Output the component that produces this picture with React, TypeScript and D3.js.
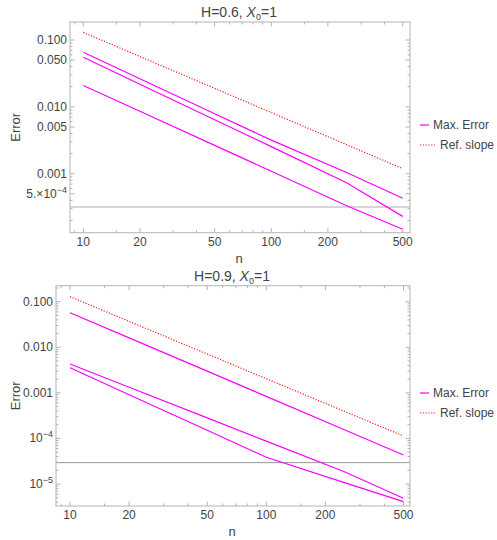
import React from "react";
import * as d3 from "d3";

// ---- data ----
const nValues = [10, 20, 50, 100, 250, 500];

// H = 0.6
const h06ErrA = [0.0655, 0.0264, 0.0079, 0.00318, 0.00105, 0.00043];
const h06ErrB = [0.0551, 0.0218, 0.00641, 0.00254, 0.00074, 0.00023];
const h06ErrC = [0.0209, 0.00859, 0.00265, 0.00109, 0.000335, 0.000148];
const h06Ref = [0.13, 0.0567, 0.0189, 0.00822, 0.00274, 0.00119];
const h06Threshold = 0.000317;

// H = 0.9
const h09ErrA = [0.0574, 0.0161, 0.00299, 0.000836, 0.000155, 0.0000434];
const h09ErrB = [0.0043, 0.00133, 0.000282, 0.0000873, 0.0000186, 0.00000486];
const h09ErrC = [0.00356, 0.00091, 0.000151, 0.0000385, 0.0000107, 0.0000041];
const h09Ref = [0.129, 0.037, 0.00711, 0.00204, 0.000393, 0.000113];
const h09Threshold = 0.0000294;

const xTickLabels = [10, 20, 50, 100, 200, 500];
const xMinorTicks = [9, 15, 30, 40, 60, 70, 80, 90, 150, 300, 400];
const h06YTicks = [0.1, 0.05, 0.01, 0.005, 0.001, 0.0005];
const h09YTicks = [0.1, 0.01, 0.001, 0.0001, 0.00001];

const FONT = "'Liberation Sans', Arial, sans-serif";
const TXT = "#444";
const FRAME = "#b4b4b4";
const MAG = "#ff00ff";
const RED = "#ff2020";

type YLabel = { v: number; base: string; exp?: string };

function yLabel06(v: number): YLabel {
  if (v === 0.0005) return { v, base: "5.×10", exp: "−4" };
  return { v, base: d3.format(".3f")(v) };
}
function yLabel09(v: number): YLabel {
  if (v < 0.001) return { v, base: "10", exp: String(Math.round(Math.log10(v))).replace("-", "−") };
  return { v, base: d3.format(".3f")(v) };
}

function Panel(props: {
  title: string;
  left: number; right: number; top: number; bottom: number;
  xDomain: [number, number]; yDomain: [number, number];
  series: number[][]; ref: number[]; threshold: number;
  yTicks: YLabel[]; thresholdColor: string; thresholdWidth: number;
  legendY: number;
}) {
  const { left, right, top, bottom } = props;
  const x = d3.scaleLog().domain(props.xDomain).range([left, right]);
  const y = d3.scaleLog().domain(props.yDomain).range([top, bottom]);
  const line = d3
    .line<number>()
    .x((_, i) => x(nValues[i]))
    .y((d) => y(d));

  // minor y ticks
  const lo = Math.floor(Math.log10(props.yDomain[1]));
  const hi = Math.ceil(Math.log10(props.yDomain[0]));
  const majorSet = props.yTicks.map((t) => t.v);
  const yMinor: number[] = [];
  for (let e = lo; e <= hi; e++) {
    for (let k = 1; k <= 9; k++) {
      const v = k * Math.pow(10, e);
      if (v < props.yDomain[1] || v > props.yDomain[0]) continue;
      if (majorSet.some((m) => Math.abs(m - v) / v < 1e-6)) continue;
      yMinor.push(v);
    }
  }
  const cx = (left + right) / 2;
  const cy = (top + bottom) / 2;
  const [t1, rest] = props.title.split("|");
  return (
    <g>
      <text x={cx - 1} y={top - 5} textAnchor="middle" fontSize={14} fill={TXT} fontFamily={FONT}>
        {t1}
        <tspan fontStyle="italic">X</tspan>
        <tspan fontSize={9} dy={3}>0</tspan>
        <tspan dy={-3}>{rest}</tspan>
      </text>
      {/* threshold */}
      <line x1={left} x2={right} y1={y(props.threshold)} y2={y(props.threshold)}
        stroke={props.thresholdColor} strokeWidth={props.thresholdWidth} />
      {/* series */}
      <path d={line(props.ref) || ""} fill="none" stroke={RED} strokeWidth={1.2} strokeDasharray="1.2,1.6" />
      {props.series.map((s, i) => (
        <path key={i} d={line(s) || ""} fill="none" stroke={MAG} strokeWidth={1.2} />
      ))}
      {/* frame */}
      <rect x={left} y={top} width={right - left} height={bottom - top} fill="none" stroke={FRAME} strokeWidth={1} />
      {/* x ticks */}
      {xTickLabels.map((v) => (
        <g key={"xm" + v}>
          <line x1={x(v)} x2={x(v)} y1={bottom} y2={bottom - 4.5} stroke={FRAME} />
          <line x1={x(v)} x2={x(v)} y1={top} y2={top + 4.5} stroke={FRAME} />
          <text x={x(v)} y={bottom + 13} textAnchor="middle" fontSize={12} fill={TXT} fontFamily={FONT}>{v}</text>
        </g>
      ))}
      {xMinorTicks.filter((v) => v >= props.xDomain[0] && v <= props.xDomain[1]).map((v) => (
        <g key={"xn" + v}>
          <line x1={x(v)} x2={x(v)} y1={bottom} y2={bottom - 2.5} stroke={FRAME} />
          <line x1={x(v)} x2={x(v)} y1={top} y2={top + 2.5} stroke={FRAME} />
        </g>
      ))}
      {/* y ticks */}
      {props.yTicks.map((t) => (
        <g key={"ym" + t.v}>
          <line x1={left} x2={left + 4.5} y1={y(t.v)} y2={y(t.v)} stroke={FRAME} />
          <line x1={right} x2={right - 4.5} y1={y(t.v)} y2={y(t.v)} stroke={FRAME} />
          <text x={left - 3} y={y(t.v) + 4} textAnchor="end" fontSize={12} fill={TXT} fontFamily={FONT}>
            {t.base}
            {t.exp ? <tspan fontSize={9} dy={-5}>{t.exp}</tspan> : null}
          </text>
        </g>
      ))}
      {yMinor.map((v) => (
        <g key={"yn" + v}>
          <line x1={left} x2={left + 2.5} y1={y(v)} y2={y(v)} stroke={FRAME} />
          <line x1={right} x2={right - 2.5} y1={y(v)} y2={y(v)} stroke={FRAME} />
        </g>
      ))}
      {/* axis labels */}
      <text x={cx - 1} y={bottom + 30} textAnchor="middle" fontSize={13} fill={TXT} fontFamily={FONT}>n</text>
      <text transform={`translate(20,${cy}) rotate(-90)`} textAnchor="middle" fontSize={13} fill={TXT} fontFamily={FONT}>Error</text>
      {/* legend */}
      <line x1={420} x2={429} y1={props.legendY} y2={props.legendY} stroke={MAG} strokeWidth={1.2} />
      <text x={433} y={props.legendY + 4} fontSize={12} fill={TXT} fontFamily={FONT}>Max. Error</text>
      <line x1={420} x2={435} y1={props.legendY + 20} y2={props.legendY + 20} stroke={RED} strokeWidth={1.2} strokeDasharray="1.2,1.6" />
      <text x={440} y={props.legendY + 24} fontSize={12} fill={TXT} fontFamily={FONT}>Ref. slope</text>
    </g>
  );
}

export default function App() {
  return (
    <svg width={497} height={540} style={{ position: "absolute", left: 0, top: 0, background: "#fff" }}>
      <Panel
        title="H=0.6, |=1"
        left={70} right={410} top={22} bottom={232.7}
        xDomain={[8.497, 546.8]} yDomain={[0.1859, 0.0001311]}
        series={[h06ErrA, h06ErrB, h06ErrC]} ref={h06Ref} threshold={h06Threshold}
        yTicks={h06YTicks.map(yLabel06)} thresholdColor="#c8c8c8" thresholdWidth={1.5}
        legendY={125}
      />
      <Panel
        title="H=0.9, |=1"
        left={56} right={410} top={285.7} bottom={506}
        xDomain={[8.48, 539.7]} yDomain={[0.2244, 0.00000329]}
        series={[h09ErrA, h09ErrB, h09ErrC]} ref={h09Ref} threshold={h09Threshold}
        yTicks={h09YTicks.map(yLabel09)} thresholdColor="#999" thresholdWidth={1}
        legendY={393}
      />
    </svg>
  );
}
